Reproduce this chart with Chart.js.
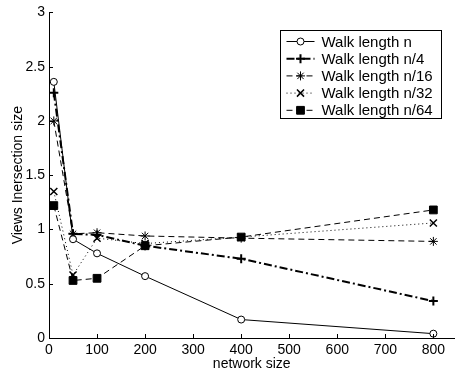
<!DOCTYPE html>
<html>
<head>
<meta charset="utf-8">
<script src="https://cdn.jsdelivr.net/npm/chart.js@4.4.0/dist/chart.umd.min.js"></script>
<style>
  html, body { margin: 0; padding: 0; background: #fff; }
  #wrap { width: 461px; height: 376px; }
</style>
</head>
<body>
<div id="wrap"><canvas id="chart" width="461" height="376"></canvas></div>
<script>
// --- data ---
const networkSizes = [10, 50, 100, 200, 400, 800];
const walkN   = [2.36, 0.91, 0.78, 0.57, 0.17, 0.04];
const walkN4  = [2.26, 0.96, 0.95, 0.85, 0.73, 0.34];
const walkN16 = [2.00, 0.96, 0.97, 0.94, 0.92, 0.89];
const walkN32 = [1.35, 0.58, 0.92, 0.87, 0.93, 1.06];
const walkN64 = [1.22, 0.53, 0.55, 0.85, 0.93, 1.18];
const seriesNames = ['Walk length n', 'Walk length n/4', 'Walk length n/16', 'Walk length n/32', 'Walk length n/64'];
const xTicks = [0, 100, 200, 300, 400, 500, 600, 700, 800];
const yTicks = [0, 0.5, 1, 1.5, 2, 2.5, 3];

const FONT = '"Liberation Sans", Arial, Helvetica, sans-serif';

function pts(vals) {
  return vals.map((v, i) => ({ x: networkSizes[i], y: v }));
}

function series(label, vals, style) {
  return Object.assign({
    label,
    data: pts(vals),
    borderColor: '#000',
    pointBorderColor: '#000',
    pointBackgroundColor: '#000',
    borderWidth: 1,
    tension: 0,
    fill: false
  }, style);
}

const datasets = [
  series(seriesNames[0], walkN,   { pointStyle: 'circle', pointRadius: 3.5, pointBackgroundColor: '#fff', pointBorderWidth: 1 }),
  series(seriesNames[1], walkN4,  { pointStyle: 'cross', pointRadius: 4.5, pointBorderWidth: 2, borderWidth: 2, borderDash: [8, 3, 2, 3] }),
  series(seriesNames[2], walkN16, { pointStyle: 'star', pointRadius: 4.5, pointBorderWidth: 1, borderDash: [6, 4] }),
  series(seriesNames[3], walkN32, { pointStyle: 'crossRot', pointRadius: 5, pointBorderWidth: 1.5, borderDash: [1, 3] }),
  series(seriesNames[4], walkN64, { pointStyle: 'rect', pointRadius: 5.5, pointBorderWidth: 1, borderDash: [6, 4] })
];

// inward tick marks, matlab style
const innerTicks = {
  id: 'innerTicks',
  afterDraw(chart) {
    const { ctx, chartArea, scales } = chart;
    ctx.save();
    ctx.strokeStyle = '#000';
    ctx.lineWidth = 1;
    ctx.beginPath();
    scales.x.ticks.forEach(t => {
      const px = Math.round(scales.x.getPixelForValue(t.value)) + 0.5;
      ctx.moveTo(px, chartArea.bottom);
      ctx.lineTo(px, chartArea.bottom - 4);
    });
    scales.y.ticks.forEach(t => {
      const py = Math.round(scales.y.getPixelForValue(t.value)) + 0.5;
      ctx.moveTo(chartArea.left, py);
      ctx.lineTo(chartArea.left + 4, py);
    });
    ctx.stroke();
    ctx.restore();
  }
};

// boxed legend with line sample + marker
const boxLegend = {
  id: 'boxLegend',
  afterDraw(chart) {
    const { ctx } = chart;
    const bx = 280.5, by = 30.5, bw = 161, bh = 88, rowH = 17.2;
    ctx.save();
    ctx.fillStyle = '#fff';
    ctx.fillRect(bx, by, bw, bh);
    ctx.strokeStyle = '#000';
    ctx.lineWidth = 1;
    ctx.strokeRect(bx, by, bw, bh);
    ctx.font = '15px ' + FONT;
    ctx.textBaseline = 'middle';
    chart.data.datasets.forEach((ds, i) => {
      const y = by + 11 + i * rowH;
      ctx.save();
      ctx.strokeStyle = ds.borderColor;
      ctx.lineWidth = ds.borderWidth;
      ctx.setLineDash(ds.borderDash || []);
      ctx.beginPath();
      ctx.moveTo(bx + 6, y);
      ctx.lineTo(bx + 34, y);
      ctx.stroke();
      ctx.setLineDash([]);
      ctx.fillStyle = ds.pointBackgroundColor;
      ctx.strokeStyle = ds.pointBorderColor;
      ctx.lineWidth = ds.pointBorderWidth;
      Chart.helpers.drawPoint(ctx, { pointStyle: ds.pointStyle, radius: ds.pointRadius, rotation: 0, borderWidth: ds.pointBorderWidth }, bx + 20, y);
      ctx.restore();
      ctx.fillStyle = '#000';
      ctx.fillText(ds.label, bx + 41, y + 1);
    });
    ctx.restore();
  }
};

new Chart(document.getElementById('chart').getContext('2d'), {
  type: 'line',
  data: { datasets },
  options: {
    responsive: false,
    animation: false,
    devicePixelRatio: 1,
    layout: { padding: { top: 12, right: 0, left: 0, bottom: 0 } },
    plugins: { legend: { display: false }, tooltip: { enabled: false } },
    scales: {
      x: {
        type: 'linear',
        min: 0,
        max: 844,
        afterBuildTicks: s => { s.ticks = xTicks.map(v => ({ value: v })); },
        afterFit: s => { s.height = 38; },
        grid: { display: false, drawTicks: false },
        border: { display: true, color: '#000', width: 1 },
        ticks: { color: '#000', padding: 4, font: { family: FONT, size: 14 }, maxRotation: 0 },
        title: { display: true, text: 'network size', color: '#000', font: { family: FONT, size: 14 }, padding: { top: 0, bottom: 3 } }
      },
      y: {
        min: 0,
        max: 3,
        afterBuildTicks: s => { s.ticks = yTicks.map(v => ({ value: v })); },
        afterFit: s => { s.width = 49; },
        grid: { display: false, drawTicks: false },
        border: { display: true, color: '#000', width: 1 },
        ticks: { color: '#000', padding: 4, font: { family: FONT, size: 14 }, callback: v => String(v) },
        title: { display: true, text: 'Views Inersection size', color: '#000', font: { family: FONT, size: 14 }, padding: { top: 10, bottom: 0 } }
      }
    }
  },
  plugins: [innerTicks, boxLegend]
});
</script>
</body>
</html>
